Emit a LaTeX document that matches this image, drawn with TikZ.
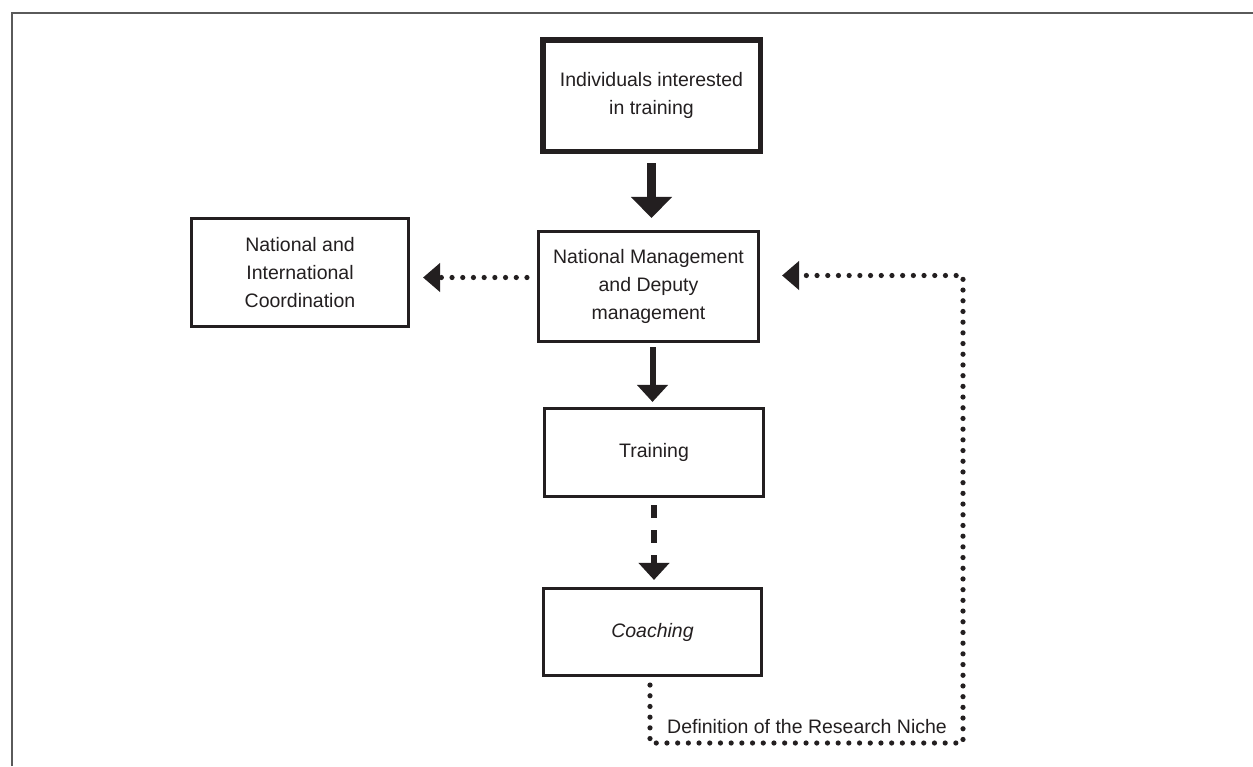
\documentclass[tikz,border=0pt]{standalone}
\usepackage{fontspec}
\setmainfont{Liberation Sans}
\usetikzlibrary{arrows.meta,calc}
\definecolor{ink}{HTML}{231F20}
\definecolor{framegray}{HTML}{5A5A5A}
\begin{document}
\begin{tikzpicture}[x=1pt,y=-1pt,
  every node/.style={font=\fontsize{19.5}{28}\selectfont, text=ink, align=center},
  box/.style={draw=ink, line width=2.6pt, inner sep=0pt},
  thickbox/.style={draw=ink, line width=5.5pt, inner sep=0pt},
  bigarrow/.style={draw=ink, line width=9pt, -{Triangle[width=40pt,length=21pt]}},
  midarrow/.style={draw=ink, line width=6pt, -{Triangle[width=30pt,length=17pt]}},
  dasharrow/.style={draw=ink, line width=6pt, dash pattern=on 13pt off 12pt, -{Triangle[width=30pt,length=17pt]}},
  dotline/.style={draw=ink, line width=5.2pt, line cap=round, dash pattern=on 0pt off 10.7pt},
  dotarrow/.style={dotline, -{Triangle[width=28pt,length=17pt]}}
]
\useasboundingbox (0,0) rectangle (1253,766);
\fill[white] (0,0) rectangle (1253,766);
% frame
\draw[framegray, line width=1.8pt] (12,766) -- (12,13) -- (1253,13);

\node[thickbox, minimum width=217.5pt, minimum height=111.5pt] (top) at (651.5,95.5) {Individuals interested\\in training};
\node[box, minimum width=220.5pt, minimum height=110.5pt] (mgmt) at (648.5,286.5) {National Management\\and Deputy\\management};
\node[box, minimum width=217.5pt, minimum height=108.5pt] (coord) at (300,272.5) {National and\\International\\Coordination};
\node[box, minimum width=219.5pt, minimum height=88.5pt] (train) at (654,452.5) {Training};
\node[box, minimum width=218.5pt, minimum height=87.5pt] (coach) at (652.5,632) {\itshape Coaching};

% connector end points
\coordinate (a1s) at ([yshift=-9pt]top.south);
\coordinate (a1e) at ([yshift=12pt]mgmt.north -| top.south);
\coordinate (a2s) at ([xshift=4pt,yshift=-4pt]mgmt.south);
\coordinate (a2e) at ([yshift=5pt]train.north -| a2s);
\coordinate (a3s) at ([yshift=-7pt]train.south);
\coordinate (a3e) at ([yshift=7pt]coach.north -| a3s);
\coordinate (l1s) at ([xshift=-10pt,yshift=9pt]mgmt.west);
\coordinate (l1e) at ([xshift=13pt]coord.east |- l1s);
\coordinate (r1s) at ([xshift=-2.5pt,yshift=-8pt]coach.south);
\coordinate (br) at (963,743);
\coordinate (r1e) at ([xshift=22pt,yshift=11pt]mgmt.east);

\draw[bigarrow] (a1s) -- (a1e);
\draw[midarrow] (a2s) -- (a2e);
\draw[dasharrow] (a3s) -- (a3e);
\draw[dotarrow] (l1s) -- (l1e);
\draw[dotarrow] (r1s) |- (br) |- (r1e);
\node[anchor=base] (niche) at (807,733) {Definition of the Research Niche};
\end{tikzpicture}
\end{document}
